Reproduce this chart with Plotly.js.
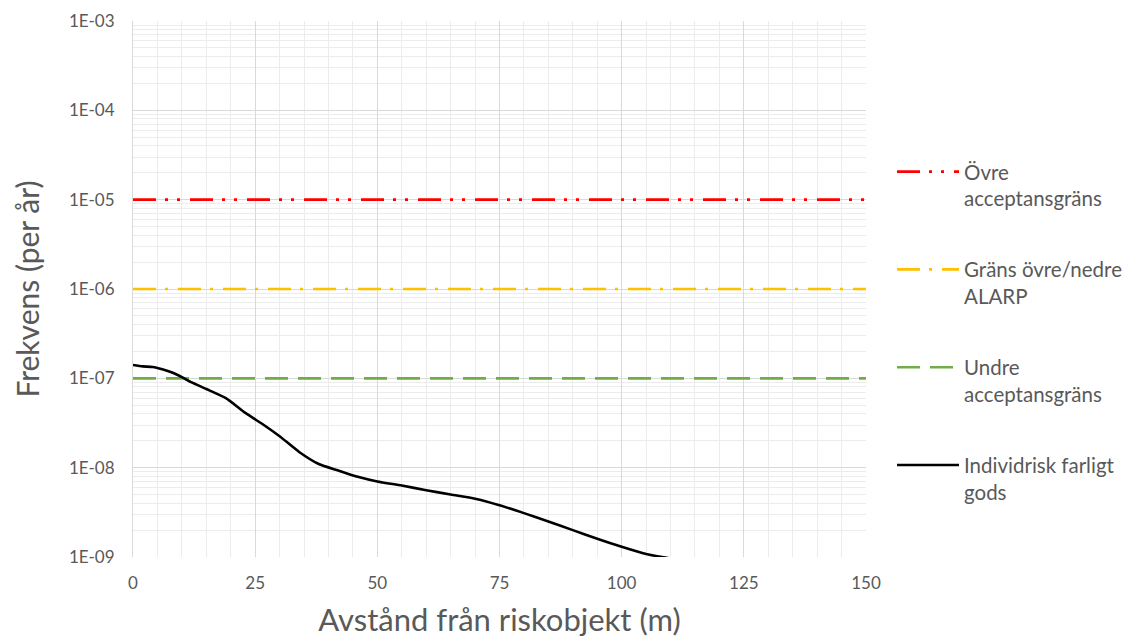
<!DOCTYPE html>
<html>
<head>
<meta charset="utf-8">
<script src="https://cdn.plot.ly/plotly-3.0.1.min.js"></script>
<style>html,body{margin:0;padding:0;background:#fff;}#chart{width:1126px;height:638px;}</style>
</head>
<body>
<div id="chart"></div>
<script>
// Data
const limitX = [0, 150];
const upperLimit = 1e-5;      // Övre acceptansgräns
const alarpLimit = 1e-6;      // Gräns övre/nedre ALARP
const lowerLimit = 1e-7;      // Undre acceptansgräns
const distance = [0, 2, 4, 6, 8, 10, 12, 15, 19, 23, 27, 30, 34, 38, 42, 46, 50, 55, 60, 65, 70, 75, 80, 85, 90, 95, 100, 105, 110, 115];
const risk = [1.41e-7, 1.36e-7, 1.34e-7, 1.26e-7, 1.16e-7, 1.03e-7, 9.0e-8, 7.6e-8, 6.0e-8, 4.1e-8, 2.95e-8, 2.25e-8, 1.5e-8, 1.1e-8, 9.3e-9, 7.9e-9, 7.0e-9, 6.3e-9, 5.6e-9, 5.0e-9, 4.5e-9, 3.8e-9, 3.1e-9, 2.5e-9, 2.0e-9, 1.6e-9, 1.3e-9, 1.08e-9, 9.6e-10, 8.5e-10];
const yTickVals = [1e-9, 1e-8, 1e-7, 1e-6, 1e-5, 1e-4, 1e-3];
const yTickText = ['1E-09', '1E-08', '1E-07', '1E-06', '1E-05', '1E-04', '1E-03'];
const xTickVals = [0, 25, 50, 75, 100, 125, 150];
const names = ['Övre<br>acceptansgräns', 'Gräns övre/nedre<br>ALARP', 'Undre<br>acceptansgräns', 'Individrisk farligt<br>gods'];

const FONT = 'Lato, "Open Sans", sans-serif';
const traces = [
  {x: limitX, y: limitX.map(() => upperLimit), name: names[0], mode: 'lines', legendgroup: 'a',
   line: {color: '#FF0000', width: 2.6, dash: '23px,9px,3px,9px,3px,10px'}},
  {x: limitX, y: limitX.map(() => alarpLimit), name: names[1], mode: 'lines', legendgroup: 'b',
   line: {color: '#FFC000', width: 2.6, dash: '23px,9px,3px,10px'}},
  {x: limitX, y: limitX.map(() => lowerLimit), name: names[2], mode: 'lines', legendgroup: 'c',
   line: {color: '#70AD47', width: 2.6, dash: '23px,10px'}},
  {x: distance, y: risk, name: names[3], mode: 'lines', legendgroup: 'd',
   line: {color: '#000000', width: 2.6, shape: 'spline', smoothing: 0.6}}
];

const layout = {
  width: 1126, height: 638,
  margin: {l: 133, r: 260, t: 21, b: 81, autoexpand: false},
  paper_bgcolor: '#ffffff', plot_bgcolor: '#ffffff',
  font: {family: FONT, color: '#595959'},
  showlegend: true,
  legend: {x: 1.0355, xanchor: 'left', y: 0.756, yanchor: 'top', font: {size: 20.5, color: '#595959', family: FONT},
           itemwidth: 62, valign: 'top', tracegroupgap: 41.5, traceorder: 'grouped', bgcolor: 'rgba(0,0,0,0)'},
  xaxis: {
    range: [0, 150], tickvals: xTickVals, ticktext: xTickVals.map(String),
    showgrid: true, gridcolor: '#d9d9d9', gridwidth: 1,
    minor: {dtick: 5, showgrid: true, gridcolor: '#ececec', gridwidth: 1},
    zeroline: false, showline: false, ticks: '', ticklabelstandoff: 14,
    tickfont: {size: 17, color: '#595959', family: FONT},
    title: {text: 'Avstånd från riskobjekt (m)', font: {size: 31, color: '#595959', family: FONT}, standoff: 18}
  },
  yaxis: {
    type: 'log', range: [-9, -3], tickvals: yTickVals, ticktext: yTickText,
    showgrid: true, gridcolor: '#d9d9d9', gridwidth: 1,
    minor: {dtick: 'D1', showgrid: true, gridcolor: '#ececec', gridwidth: 1},
    zeroline: false, showline: true, linecolor: '#d9d9d9', ticks: '', ticklabelstandoff: 14,
    tickfont: {size: 17, color: '#595959', family: FONT},
    title: {text: 'Frekvens (per år)', font: {size: 30, color: '#595959', family: FONT}, standoff: 20}
  }
};

Plotly.newPlot('chart', traces, layout, {displayModeBar: false, staticPlot: true});
</script>
</body>
</html>
